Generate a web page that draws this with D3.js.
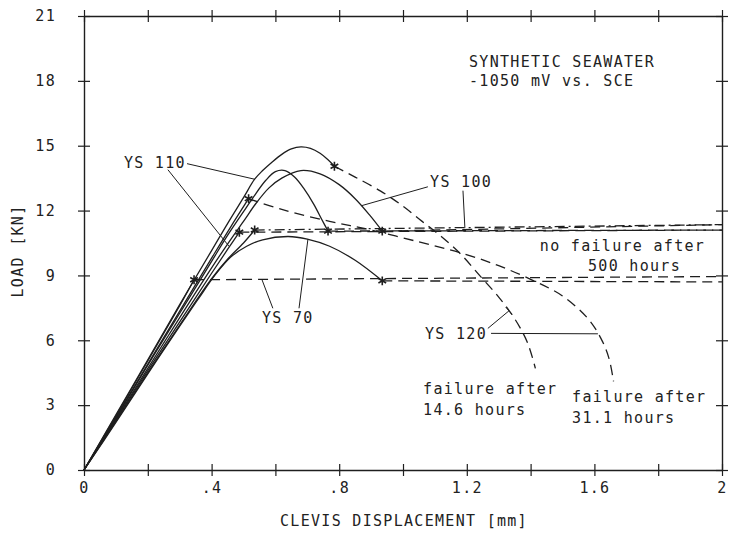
<!DOCTYPE html>
<html><head><meta charset="utf-8">
<script src="https://cdn.jsdelivr.net/npm/d3@7"></script>
<style>
html,body{margin:0;padding:0;background:#fff;}
svg text{font-family:"DejaVu Sans Mono",monospace;font-size:15px;letter-spacing:1.3px;fill:#222;}
</style></head><body><svg id="chart" width="731" height="535"></svg>
<script>
// ---------- data (x = clevis displacement mm, y = load kN) ----------
const xTicks = [0,0.2,0.4,0.6,0.8,1.0,1.2,1.4,1.6,1.8,2.0];
const xLabelValues = [0,0.4,0.8,1.2,1.6,2];
const xLabelText = ["0",".4",".8","1.2","1.6","2"];
const yTicks = [0,3,6,9,12,15,18,21];
const yLabelText = ["0","3","6","9","12","15","18","21"];

// loading (solid) curves
const ys120A_load = [[0,0],[0.1,2.55],[0.2,5.1],[0.3,7.65],[0.4,10.15],[0.45,11.4],[0.5,12.6],[0.535,13.45],[0.56,13.85],[0.59,14.25],[0.62,14.6],[0.65,14.85],[0.68,14.95],[0.71,14.88],[0.74,14.65],[0.765,14.35],[0.785,14.05]];
const ys120B_load = [[0,0],[0.1,2.45],[0.2,4.9],[0.3,7.35],[0.4,9.8],[0.46,11.25],[0.516,12.55]];
const ys110A_load = [[0,0],[0.1,2.3],[0.2,4.6],[0.3,6.85],[0.4,9.1],[0.45,10.2],[0.487,11.0]];
const ys110B_load = [[0,0],[0.1,2.4],[0.2,4.85],[0.3,7.25],[0.4,9.65],[0.45,10.85],[0.5,11.95],[0.53,12.6],[0.57,13.4],[0.6,13.8],[0.63,13.85],[0.66,13.55],[0.69,13.0],[0.72,12.3],[0.745,11.6],[0.765,11.05]];
const ys100A_load = [[0,0],[0.1,2.35],[0.2,4.7],[0.3,7.05],[0.4,9.35],[0.45,10.45],[0.5,11.5],[0.54,12.35],[0.58,13.05],[0.62,13.5],[0.68,13.85],[0.74,13.7],[0.8,13.2],[0.85,12.55],[0.895,11.8],[0.935,11.05]];
const ys100B_load = [[0,0],[0.1,2.25],[0.2,4.5],[0.3,6.7],[0.4,8.85],[0.45,9.75],[0.5,10.5],[0.535,11.1]];
const ys70A_load  = [[0,0],[0.1,2.5],[0.2,5.05],[0.3,7.6],[0.345,8.8]];
const ys70B_load  = [[0,0],[0.1,2.2],[0.2,4.45],[0.3,6.65],[0.36,7.95],[0.41,9.0],[0.46,9.85],[0.51,10.35],[0.56,10.65],[0.64,10.8],[0.7,10.68],[0.77,10.35],[0.85,9.7],[0.935,8.75]];

// hold (dashed) curves
const ys120A_hold = [[0.785,14.05],[0.85,13.55],[0.93,12.9],[1.0,12.2],[1.06,11.5],[1.12,10.8],[1.18,10.0],[1.24,9.0],[1.3,8.0],[1.35,7.0],[1.39,5.9],[1.415,4.7]];
const ys120B_hold = [[0.516,12.55],[0.62,12.05],[0.77,11.5],[0.9,11.1],[1.05,10.55],[1.18,10.05],[1.3,9.45],[1.41,8.75],[1.5,8.05],[1.58,7.0],[1.62,6.1],[1.645,5.2],[1.66,4.1]];
const ys110A_hold = [[0.487,11.0],[2.0,11.1]];
const ys110B_hold = [[0.765,11.05],[2.0,11.1]];
const ys100A_hold = [[0.935,11.05],[2.0,11.35]];
const ys100B_hold = [[0.535,11.1],[2.0,11.35]];
const ys70A_hold  = [[0.345,8.8],[2.0,8.95]];
const ys70B_hold  = [[0.935,8.75],[2.0,8.7]];

// annotation texts (anchor = left end, vertical centre, in data units)
const noteText = ["SYNTHETIC SEAWATER","-1050 mV vs. SCE","YS 110","YS 100","YS 70","YS 120","no failure after","500 hours","failure after","14.6 hours","failure after","31.1 hours"];
const noteX = [1.207,1.207,0.125,1.085,0.558,1.069,1.429,1.58,1.063,1.063,1.53,1.53];
const noteY = [18.88,18.0,14.22,13.34,7.02,6.32,10.38,9.46,3.74,2.77,3.37,2.4];
// leader lines [x1,y1,x2,y2]
const leaders = [
  [0.323,14.17,0.535,13.45],
  [0.263,13.89,0.455,10.34],
  [1.078,13.1,0.871,12.23],
  [1.188,12.92,1.194,11.2],
  [0.592,7.48,0.558,8.8],
  [0.674,7.48,0.702,10.68],
  [1.266,6.55,1.332,7.36],
  [1.276,6.32,1.611,6.3]
];

// ---------- drawing ----------
const svg = d3.select("#chart");
const x = d3.scaleLinear().domain([0,2]).range([84,722]);
const y = d3.scaleLinear().domain([0,21]).range([470,16]);
const ink = "#1e1e1e";

svg.append("rect").attr("width",731).attr("height",535).attr("fill","#fff");

function styleAxis(g, orient){
  g.select(".domain").attr("stroke",ink).attr("stroke-width",1.4);
  g.selectAll(".tick line").attr("stroke",ink).attr("stroke-width",1.2);
  if(orient==="h") g.selectAll(".tick line").attr("y1",-6).attr("y2",6);
  else g.selectAll(".tick line").attr("x1",-6).attr("x2",6);
}
const xFmt = d => { const i = xLabelValues.findIndex(v => Math.abs(v-d)<1e-9); return i<0 ? "" : xLabelText[i]; };
const yFmt = d => yLabelText[yTicks.indexOf(d)];

const gB = svg.append("g").attr("transform",`translate(0,${y(0)})`)
  .call(d3.axisBottom(x).tickValues(xTicks).tickSize(6).tickSizeOuter(0).tickFormat(xFmt));
styleAxis(gB,"h");
gB.selectAll(".tick text").attr("y",12).attr("fill",ink);

const gT = svg.append("g").attr("transform",`translate(0,${y(21)})`)
  .call(d3.axisTop(x).tickValues(xTicks).tickSize(6).tickSizeOuter(0).tickFormat(""));
styleAxis(gT,"h");

const gL = svg.append("g").attr("transform",`translate(${x(0)},0)`)
  .call(d3.axisLeft(y).tickValues(yTicks).tickSize(6).tickSizeOuter(0).tickPadding(22).tickFormat(yFmt));
styleAxis(gL,"v");
gL.selectAll(".tick text").attr("fill",ink);

const gR = svg.append("g").attr("transform",`translate(${x(2)},0)`)
  .call(d3.axisRight(y).tickValues(yTicks).tickSize(6).tickSizeOuter(0).tickFormat(""));
styleAxis(gR,"v");
svg.selectAll(".tick text").style("font-family","'DejaVu Sans Mono',monospace").style("font-size","15px");

// axis titles
svg.append("text").attr("x",404).attr("y",521).attr("dy","0.35em").attr("text-anchor","middle")
  .text("CLEVIS DISPLACEMENT [mm]");
svg.append("text").attr("transform","translate(18,251) rotate(-90)").attr("dy","0.35em")
  .attr("text-anchor","middle").text("LOAD [KN]");

const lineC = d3.line().x(d=>x(d[0])).y(d=>y(d[1])).curve(d3.curveCatmullRom.alpha(0.5));

const plot = svg.append("g");
const loads = [ys120A_load, ys120B_load, ys110A_load, ys110B_load, ys100A_load, ys100B_load, ys70A_load, ys70B_load];
const holds = [
  {d:ys120A_hold, dash:"10,6"},
  {d:ys120B_hold, dash:"10,6"},
  {d:ys110A_hold, dash:"10,6"},
  {d:ys110B_hold, dash:"10,6"},
  {d:ys100A_hold, dash:"10,6"},
  {d:ys100B_hold, dash:"10,4,2,4"},
  {d:ys70A_hold,  dash:"10,6"},
  {d:ys70B_hold,  dash:"10,6"}
];

plot.selectAll("path.load").data(loads).join("path").attr("class","load")
  .attr("d", d => lineC(d)).attr("fill","none").attr("stroke",ink).attr("stroke-width",1.3);
plot.selectAll("path.hold").data(holds).join("path").attr("class","hold")
  .attr("d", h => lineC(h.d)).attr("fill","none").attr("stroke",ink).attr("stroke-width",1.3)
  .attr("stroke-dasharray", h => h.dash);

// asterisk markers at the end of each loading curve
const star = d3.symbol().type(d3.symbolAsterisk).size(55);
plot.selectAll("path.star").data(loads).join("path").attr("class","star")
  .attr("transform", d => { const p = d[d.length-1]; return `translate(${x(p[0])},${y(p[1])})`; })
  .attr("d", star).attr("fill","none").attr("stroke",ink).attr("stroke-width",1.6);

// leaders
plot.selectAll("line.lead").data(leaders).join("line").attr("class","lead")
  .attr("x1",d=>x(d[0])).attr("y1",d=>y(d[1])).attr("x2",d=>x(d[2])).attr("y2",d=>y(d[3]))
  .attr("stroke",ink).attr("stroke-width",1);
// small T-bar at the YS 120 leader to the first failure curve
{
  const L = leaders[6];
  const x2 = x(L[2]), y2 = y(L[3]);
  const dx = x2 - x(L[0]), dy = y2 - y(L[1]);
  const len = Math.hypot(dx,dy), nx = -dy/len*5, ny = dx/len*5;
  plot.append("line").attr("x1",x2+nx).attr("y1",y2+ny).attr("x2",x2-nx).attr("y2",y2-ny)
    .attr("stroke",ink).attr("stroke-width",1);
}

// notes
svg.selectAll("text.note").data(noteText).join("text").attr("class","note")
  .attr("x",(d,i)=>x(noteX[i])).attr("y",(d,i)=>y(noteY[i])).attr("dy","0.35em")
  .text(d=>d);
</script></body></html>
